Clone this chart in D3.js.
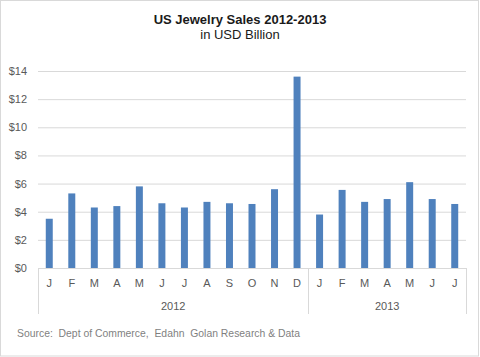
<!DOCTYPE html>
<html><head><meta charset="utf-8">
<script src="https://cdn.jsdelivr.net/npm/d3@7"></script>
<style>body{margin:0;background:#fff}svg{display:block}text{font-family:"Liberation Sans",Arial,sans-serif}</style>
</head><body><svg id="c" width="480" height="357"></svg>
<script>
const months = ["J","F","M","A","M","J","J","A","S","O","N","D","J","F","M","A","M","J","J"];
const years = ["2012","2013"];
const yearCounts = [12,7];
const values = [3.5,5.3,4.3,4.4,5.8,4.6,4.3,4.7,4.6,4.55,5.6,13.6,3.8,5.55,4.7,4.9,6.1,4.9,4.55];
const yTicks = [0,2,4,6,8,10,12,14];

const svg = d3.select("#c");
svg.append("rect").attr("x",0.5).attr("y",0.5).attr("width",478).attr("height",355.5)
  .attr("fill","#fff").attr("stroke","#d9d9d9");

const L=38, R=466, T=71, B=268;
const x = d3.scaleBand().domain(d3.range(values.length)).range([L,R]).paddingInner(0.69).paddingOuter(0.345);
const y = d3.scaleLinear().domain([0,14]).range([B,T]);

const ya = d3.axisLeft(y).tickValues(yTicks).tickSize(-(R-L)).tickFormat(d=>"$"+d);
const g = svg.append("g").attr("transform",`translate(${L},0)`).call(ya);
g.select(".domain").remove();
g.selectAll(".tick line").attr("stroke","#d9d9d9");
g.selectAll(".tick text").attr("x",-11).attr("fill","#595959").style("font-size","11px");

svg.append("g").selectAll("rect").data(values).join("rect")
  .attr("x",(d,i)=>x(i)).attr("width",x.bandwidth())
  .attr("y",d=>y(d)).attr("height",d=>B-y(d)).attr("fill","#4f81bd");

// x axis
svg.append("line").attr("x1",L).attr("x2",R).attr("y1",B+0.5).attr("y2",B+0.5).attr("stroke","#d9d9d9");
let acc=0;
const bounds=[0];
yearCounts.forEach(c=>{acc+=c;bounds.push(acc);});
const bx = i => L + i*(R-L)/values.length;
svg.append("g").selectAll("line").data(bounds).join("line")
  .attr("x1",d=>Math.round(bx(d))+0.5).attr("x2",d=>Math.round(bx(d))+0.5)
  .attr("y1",B).attr("y2",314).attr("stroke","#d9d9d9");
svg.append("g").selectAll("text").data(months).join("text")
  .attr("x",(d,i)=>x(i)+x.bandwidth()/2).attr("y",287).attr("text-anchor","middle")
  .attr("fill","#595959").style("font-size","11px").text(d=>d);
svg.append("g").selectAll("text").data(years).join("text")
  .attr("x",(d,i)=>(bx(bounds[i])+bx(bounds[i+1]))/2).attr("y",310).attr("text-anchor","middle")
  .attr("fill","#595959").style("font-size","11px").text(d=>d);

svg.append("text").attr("x",240).attr("y",24).attr("text-anchor","middle")
  .style("font-size","13px").style("font-weight","bold").attr("fill","#1a1a1a").text("US Jewelry Sales 2012-2013");
svg.append("text").attr("x",240).attr("y",39).attr("text-anchor","middle")
  .style("font-size","13px").attr("fill","#1a1a1a").text("in USD Billion");
svg.append("text").attr("x",17).attr("y",336.5).style("font-size","10.5px").attr("fill","#7f7f7f")
  .attr("textLength",283).attr("lengthAdjust","spacingAndGlyphs")
  .style("white-space","pre").text("Source:  Dept of Commerce,  Edahn  Golan Research & Data");
</script></body></html>
